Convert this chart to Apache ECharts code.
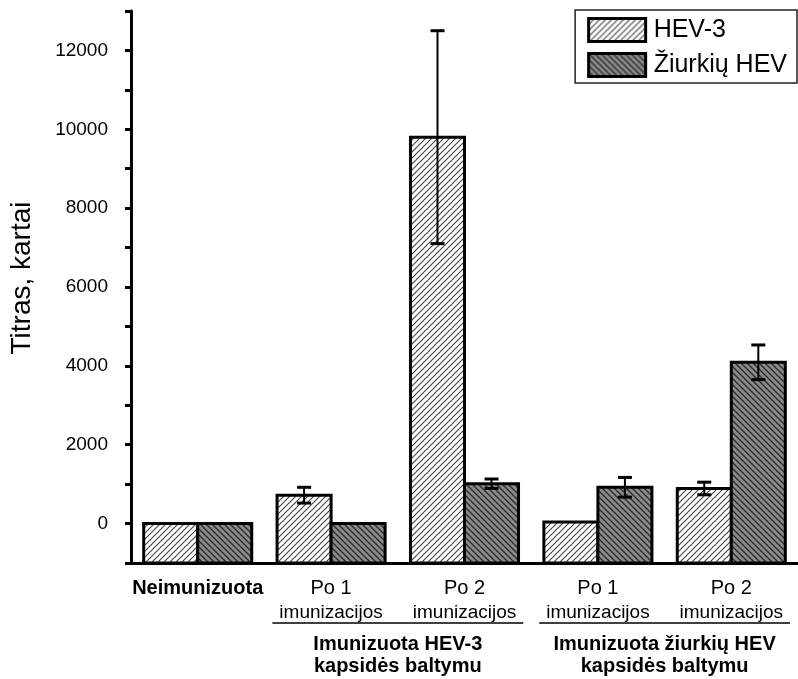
<!DOCTYPE html>
<html>
<head>
<meta charset="utf-8">
<script src="https://cdn.jsdelivr.net/npm/echarts@6/dist/echarts.min.js"></script>
<style>
  html, body { margin: 0; padding: 0; background: #fff; }
  #chart { width: 798px; height: 679px; }
</style>
</head>
<body>
<div id="chart"></div>
<script>
// Category labels (first line / second line)
const categoryTop = ['Neimunizuota', 'Po 1', 'Po 2', 'Po 1', 'Po 2'];
const categoryBottom = ['', 'imunizacijos', 'imunizacijos', 'imunizacijos', 'imunizacijos'];

// Group captions under the category labels
const groupFrom = [1, 3];
const groupTo = [2, 4];
const groupText = ['Imunizuota HEV-3\nkapsidės baltymu', 'Imunizuota žiurkių HEV\nkapsidės baltymu'];

// Series
const seriesNames = ['HEV-3', 'Žiurkių HEV'];
const hev3Values = [0, 720, 9800, 40, 890];
const hev3Errors = [0, 200, 2700, 0, 160];
const ratValues = [0, 0, 1010, 920, 4090];
const ratErrors = [0, 0, 120, 250, 440];

// Value axis: short ticks every 1000, long labelled ticks every 2000
const yMin = -1000;
const yMax = 13000;
const yStep = 1000;
const majorTicks = [0, 2000, 4000, 6000, 8000, 10000, 12000];

const FONT = '"Liberation Sans", Arial, sans-serif';
const BAR_FRACTION = 0.405;

function makeHatch(bg, line, dir, width) {
  const s = 6;
  const c = document.createElement('canvas');
  c.width = s; c.height = s;
  const g = c.getContext('2d');
  g.fillStyle = bg; g.fillRect(0, 0, s, s);
  g.strokeStyle = line; g.lineWidth = width;
  g.beginPath();
  if (dir > 0) {
    g.moveTo(-1, s + 1); g.lineTo(s + 1, -1);
    g.moveTo(-1, 1); g.lineTo(1, -1);
    g.moveTo(s - 1, s + 1); g.lineTo(s + 1, s - 1);
  } else {
    g.moveTo(-1, -1); g.lineTo(s + 1, s + 1);
    g.moveTo(s - 1, -1); g.lineTo(s + 1, 1);
    g.moveTo(-1, s - 1); g.lineTo(1, s + 1);
  }
  g.stroke();
  return { image: c, repeat: 'repeat' };
}

const fills = [
  makeHatch('#ffffff', '#4a4a4a', 1, 1.2),
  makeHatch('#8a8a8a', '#2a2a2a', -1, 1.3)
];

function barRenderer(side, fill) {
  return function (params, api) {
    const idx = api.value(0);
    const top = api.coord([idx, api.value(1)]);
    const base = api.coord([idx, yMin]);
    const w = api.size([1, 0])[0] * BAR_FRACTION;
    const x = side < 0 ? top[0] - w : top[0];
    return {
      type: 'rect',
      shape: { x: x, y: top[1], width: w, height: base[1] - top[1] },
      style: { fill: fill, stroke: '#000', lineWidth: 3 }
    };
  };
}

function errRenderer(side) {
  return function (params, api) {
    const idx = api.value(0);
    const v = api.value(1);
    const e = api.value(2);
    if (!e) return { type: 'group', children: [] };
    const w = api.size([1, 0])[0] * BAR_FRACTION;
    const c = api.coord([idx, v]);
    const cx = c[0] + side * w / 2;
    const hi = api.coord([idx, v + e])[1];
    const lo = api.coord([idx, v - e])[1];
    const cap = 7;
    return {
      type: 'group',
      children: [
        { type: 'line', shape: { x1: cx, y1: hi, x2: cx, y2: lo }, style: { stroke: '#000', lineWidth: 2 } },
        { type: 'line', shape: { x1: cx - cap, y1: hi, x2: cx + cap, y2: hi }, style: { stroke: '#000', lineWidth: 3 } },
        { type: 'line', shape: { x1: cx - cap, y1: lo, x2: cx + cap, y2: lo }, style: { stroke: '#000', lineWidth: 3 } }
      ]
    };
  };
}

const hev3Data = hev3Values.map((v, i) => [i, v]);
const ratData = ratValues.map((v, i) => [i, v]);
const hev3ErrData = hev3Values.map((v, i) => [i, v, hev3Errors[i]]);
const ratErrData = ratValues.map((v, i) => [i, v, ratErrors[i]]);

const chart = echarts.init(document.getElementById('chart'), null, { renderer: 'canvas' });

chart.setOption({
  animation: false,
  backgroundColor: '#ffffff',
  grid: { left: 123, top: 11, width: 680, height: 552, containLabel: false },
  legend: {
    orient: 'vertical',
    right: 1,
    top: 10,
    icon: 'rect',
    itemWidth: 57,
    itemHeight: 23,
    itemGap: 9,
    padding: [7, 10, 5, 12],
    borderColor: '#222',
    borderWidth: 1.5,
    borderRadius: 0,
    selectedMode: false,
    textStyle: { fontFamily: FONT, fontSize: 25, lineHeight: 23, color: '#000', padding: [0, 0, 0, 3] },
    data: [
      { name: seriesNames[0], itemStyle: { color: fills[0], borderColor: '#000', borderWidth: 3 } },
      { name: seriesNames[1], itemStyle: { color: fills[1], borderColor: '#000', borderWidth: 3 } }
    ]
  },
  xAxis: {
    type: 'category',
    data: categoryTop,
    boundaryGap: true,
    axisLine: { onZero: false, lineStyle: { color: '#000', width: 3 } },
    axisTick: { alignWithLabel: true, length: 11, lineStyle: { color: '#000', width: 3 } },
    axisLabel: {
      interval: 0,
      margin: 13,
      formatter: function (value, index) {
        if (!categoryBottom[index]) return '{b|' + value + '}';
        return '{t|' + value + '}\n{s|' + categoryBottom[index] + '}';
      },
      rich: {
        b: { fontFamily: FONT, fontSize: 20, fontWeight: 'bold', color: '#000', lineHeight: 24 },
        t: { fontFamily: FONT, fontSize: 20, color: '#000', lineHeight: 24 },
        s: { fontFamily: FONT, fontSize: 19, color: '#000', lineHeight: 25 }
      }
    }
  },
  yAxis: [
    {
      type: 'value',
      min: yMin,
      max: yMax,
      interval: yStep,
      splitLine: { show: false },
      name: 'Titras, kartai',
      nameLocation: 'middle',
      nameGap: 95,
      nameTextStyle: { fontFamily: FONT, fontSize: 28, color: '#000', padding: [0, 0, 0, 18] },
      axisLine: { show: true, onZero: false, lineStyle: { color: '#000', width: 3 } },
      axisTick: { show: true, length: 6, lineStyle: { color: '#000', width: 3 } },
      axisLabel: { show: false }
    },
    {
      type: 'value',
      min: yMin,
      max: yMax,
      splitLine: { show: false },
      axisLine: { show: false, onZero: false },
      axisTick: { show: true, length: 10, customValues: majorTicks, lineStyle: { color: '#000', width: 3 } },
      axisLabel: { show: false }
    }
  ],
  series: [
    {
      name: seriesNames[0], type: 'custom', renderItem: barRenderer(-1, fills[0]),
      itemStyle: { color: fills[0] }, encode: { x: 0, y: 1 }, data: hev3Data, z: 2
    },
    {
      name: seriesNames[1], type: 'custom', renderItem: barRenderer(1, fills[1]),
      itemStyle: { color: fills[1] }, encode: { x: 0, y: 1 }, data: ratData, z: 2
    },
    {
      type: 'custom', renderItem: errRenderer(-1), encode: { x: 0, y: 1 },
      data: hev3ErrData, z: 5, silent: true
    },
    {
      type: 'custom', renderItem: errRenderer(1), encode: { x: 0, y: 1 },
      data: ratErrData, z: 5, silent: true
    }
  ]
});

const graphics = [];

// Value-axis tick labels, placed through the axis scale
const axisX = chart.convertToPixel({ xAxisIndex: 0 }, 0) - (chart.convertToPixel({ xAxisIndex: 0 }, 1) - chart.convertToPixel({ xAxisIndex: 0 }, 0)) / 2;
majorTicks.forEach(function (v) {
  graphics.push({
    type: 'text',
    x: axisX - 23,
    y: chart.convertToPixel({ yAxisIndex: 0 }, v),
    style: {
      text: String(v),
      fontFamily: FONT,
      fontSize: 19,
      fill: '#000',
      align: 'right',
      verticalAlign: 'middle'
    }
  });
});

// Group captions with an underline spanning their categories
const c0 = chart.convertToPixel({ xAxisIndex: 0 }, 0);
const c1 = chart.convertToPixel({ xAxisIndex: 0 }, 1);
const band = c1 - c0;
const underlineY = 623;
groupText.forEach(function (txt, g) {
  const a = chart.convertToPixel({ xAxisIndex: 0 }, groupFrom[g]);
  const b = chart.convertToPixel({ xAxisIndex: 0 }, groupTo[g]);
  graphics.push({
    type: 'line',
    shape: { x1: a - band * 0.44, y1: underlineY, x2: b + band * 0.44, y2: underlineY },
    style: { stroke: '#000', lineWidth: 1.5 }
  });
  graphics.push({
    type: 'text',
    x: (a + b) / 2,
    y: underlineY + 10,
    style: {
      text: txt,
      fontFamily: FONT,
      fontSize: 20,
      fontWeight: 'bold',
      lineHeight: 22,
      fill: '#000',
      align: 'center',
      verticalAlign: 'top'
    }
  });
});
chart.setOption({ graphic: graphics });
</script>
</body>
</html>
